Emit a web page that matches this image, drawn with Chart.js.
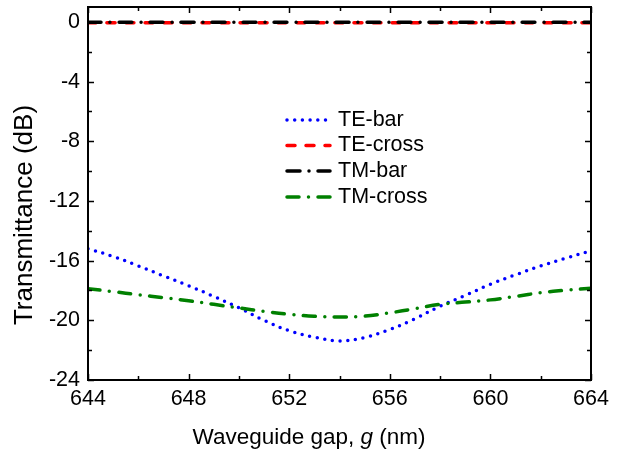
<!DOCTYPE html>
<html>
<head>
<meta charset="utf-8">
<script src="https://cdn.jsdelivr.net/npm/chart.js@4.4.0/dist/chart.umd.min.js"></script>
<style>
  html, body { margin: 0; padding: 0; background: #fff; }
  #wrap { width: 624px; height: 456px; position: relative; }
</style>
</head>
<body>
<div id="wrap"><canvas id="chart"></canvas></div>
<script>
const gap = [644, 645, 646, 647, 648, 649, 650, 651, 652, 653, 654, 655, 656, 657, 658, 659, 660, 661, 662, 663, 664];
const teBar   = [-15.2, -15.72, -16.35, -17.02, -17.68, -18.4, -19.16, -20.0, -20.7, -21.13, -21.38, -21.15, -20.62, -19.9, -19.05, -18.33, -17.58, -16.95, -16.36, -15.83, -15.35];
const teCross = [-0.05, -0.05, -0.05, -0.05, -0.05, -0.05, -0.05, -0.05, -0.05, -0.05, -0.05, -0.05, -0.05, -0.05, -0.05, -0.05, -0.05, -0.05, -0.05, -0.05, -0.05];
const tmBar   = [-0.03, -0.03, -0.03, -0.03, -0.03, -0.03, -0.03, -0.03, -0.03, -0.03, -0.03, -0.03, -0.03, -0.03, -0.03, -0.03, -0.03, -0.03, -0.03, -0.03, -0.03];
const tmCross = [-17.88, -18.08, -18.28, -18.48, -18.69, -18.93, -19.17, -19.4, -19.6, -19.73, -19.78, -19.72, -19.5, -19.22, -18.93, -18.78, -18.63, -18.4, -18.15, -17.98, -17.85];
const xTicks = [644, 648, 652, 656, 660, 664];
const yTicks = [0, -4, -8, -12, -16, -20, -24];
const seriesNames = ['TE-bar', 'TE-cross', 'TM-bar', 'TM-cross'];

const FONT = "'Liberation Sans', Arial, sans-serif";

function pts(vals) {
  return gap.map((g, i) => ({ x: g, y: vals[i] }));
}

// box with inward ticks on all four sides, titles and legend
const frame = {
  id: 'frame',
  afterDatasetsDraw(chart) {
    const { ctx, chartArea: a, scales } = chart;
    const xs = scales.x, ys = scales.y;
    ctx.save();
    ctx.strokeStyle = '#000';
    ctx.lineWidth = 2;
    ctx.strokeRect(a.left, a.top, a.right - a.left, a.bottom - a.top);
    ctx.lineWidth = 1.5;
    ctx.beginPath();
    for (let v = 644; v <= 664; v += 2) {
      const len = xTicks.includes(v) ? 6 : 4;
      const px = Math.round(xs.getPixelForValue(v)) + 0.5;
      ctx.moveTo(px, a.bottom); ctx.lineTo(px, a.bottom - len);
      ctx.moveTo(px, a.top); ctx.lineTo(px, a.top + len);
    }
    for (let v = 0; v >= -24; v -= 2) {
      const len = yTicks.includes(v) ? 6 : 4;
      const py = Math.round(ys.getPixelForValue(v)) + 0.5;
      ctx.moveTo(a.left, py); ctx.lineTo(a.left + len, py);
      ctx.moveTo(a.right, py); ctx.lineTo(a.right - len, py);
    }
    ctx.stroke();
    ctx.restore();
  },
  afterDraw(chart) {
    const { ctx } = chart;
    ctx.save();
    ctx.fillStyle = '#000';
    // y title
    ctx.font = '26px ' + FONT;
    ctx.textAlign = 'center';
    ctx.textBaseline = 'middle';
    ctx.translate(25, 215);
    ctx.rotate(-Math.PI / 2);
    ctx.fillText('Transmittance (dB)', 0, 0);
    ctx.restore();

    // x title with italic g
    ctx.save();
    ctx.fillStyle = '#000';
    ctx.textBaseline = 'middle';
    ctx.textAlign = 'left';
    const parts = [['Waveguide gap, ', ''], ['g', 'italic '], [' (nm)', '']];
    let total = 0;
    parts.forEach(p => { ctx.font = p[1] + '22.5px ' + FONT; total += ctx.measureText(p[0]).width; });
    let x = 309 - total / 2;
    parts.forEach(p => {
      ctx.font = p[1] + '22.5px ' + FONT;
      ctx.fillText(p[0], x, 438);
      x += ctx.measureText(p[0]).width;
    });
    ctx.restore();

    // legend inside the plot
    ctx.save();
    ctx.font = '21.5px ' + FONT;
    ctx.textBaseline = 'middle';
    ctx.textAlign = 'left';
    const rows = [120, 145.5, 171, 197];
    chart.data.datasets.forEach((ds, i) => {
      const y = rows[i];
      ctx.strokeStyle = ds.borderColor;
      ctx.lineWidth = ds.borderWidth;
      ctx.lineCap = 'round';
      ctx.setLineDash(ds.borderDash);
      ctx.beginPath();
      ctx.moveTo(287, y);
      ctx.lineTo(330, y);
      ctx.stroke();
      ctx.setLineDash([]);
      ctx.fillStyle = '#000';
      ctx.fillText(ds.label, 338, y);
    });
    ctx.restore();
  }
};

new Chart(document.getElementById('chart'), {
  type: 'line',
  data: {
    datasets: [
      { label: seriesNames[0], data: pts(teBar), borderColor: '#0000ff', borderWidth: 3.5, borderDash: [0, 7.7], order: 3 },
      { label: seriesNames[1], data: pts(teCross), borderColor: '#ff0000', borderWidth: 3.5, borderDash: [8, 11], order: 2 },
      { label: seriesNames[2], data: pts(tmBar), borderColor: '#000000', borderWidth: 3.5, borderDash: [13, 9, 0, 9], order: 1 },
      { label: seriesNames[3], data: pts(tmCross), borderColor: '#008000', borderWidth: 3.5, borderDash: [12, 9.5, 0, 9.5], order: 0 }
    ]
  },
  options: {
    responsive: true,
    maintainAspectRatio: false,
    animation: false,
    layout: { padding: { left: 0, right: 33, top: 7, bottom: 0 } },
    elements: {
      point: { radius: 0 },
      line: { tension: 0.35, borderCapStyle: 'round', fill: false }
    },
    plugins: { legend: { display: false }, tooltip: { enabled: false } },
    scales: {
      x: {
        type: 'linear',
        min: 644,
        max: 664,
        afterBuildTicks: s => { s.ticks = xTicks.map(v => ({ value: v })); },
        afterFit: s => { s.height = 76; s.paddingLeft = 0; s.paddingRight = 0; },
        grid: { display: false, drawTicks: false },
        border: { display: false },
        ticks: { color: '#000', font: { family: FONT, size: 21.5 }, padding: 6, maxRotation: 0, autoSkip: false }
      },
      y: {
        min: -24,
        max: 1,
        afterBuildTicks: s => { s.ticks = yTicks.map(v => ({ value: v })); },
        afterFit: s => { s.width = 88; s.paddingTop = 0; s.paddingBottom = 0; },
        grid: { display: false, drawTicks: false },
        border: { display: false },
        ticks: { color: '#000', font: { family: FONT, size: 21.5 }, padding: 8, autoSkip: false }
      }
    }
  },
  plugins: [frame]
});
</script>
</body>
</html>
